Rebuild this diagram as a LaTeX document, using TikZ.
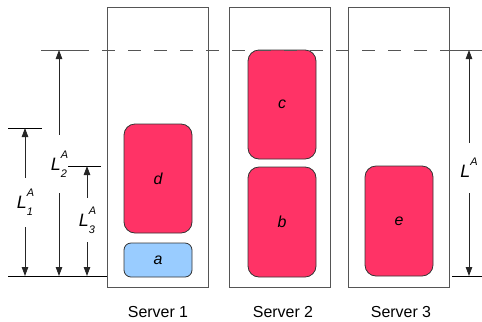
\documentclass[tikz,border=0pt]{standalone}
\usepackage{fontspec}
\setmainfont{Liberation Sans}
\usetikzlibrary{arrows.meta}
\definecolor{jobred}{HTML}{FF3366}
\definecolor{jobblue}{HTML}{99CCFF}
\definecolor{lineg}{HTML}{555555}
\newcommand{\dimlab}[2]{\itshape L\makebox[0pt][l]{\raisebox{1.25ex}{\fontsize{11}{11}\selectfont #1}}\raisebox{-0.75ex}{\fontsize{11}{11}\selectfont #2}}
\tikzset{
  server/.style={draw=lineg, line width=0.8bp},
  job/.style={draw=black!80, line width=0.8bp, rounded corners=11bp, fill=jobred, minimum width=68bp, inner sep=0pt, font=\fontsize{16}{18}\selectfont\itshape},
  smalljob/.style={job, fill=jobblue, rounded corners=7bp},
  slabel/.style={font=\fontsize{16}{18}\selectfont, inner sep=0pt},
  dlab/.style={font=\fontsize{18}{20}\selectfont, inner sep=0pt, minimum width=14bp},
  dimline/.style={draw=black!85, line width=0.8bp, -{Triangle[length=9bp,width=6.5bp]}},
  tick/.style={draw=black, line width=0.8bp},
  dashl/.style={draw=lineg, line width=0.9bp, dash pattern=on 13bp off 13bp},
}
\begin{document}
\begin{tikzpicture}[x=1bp,y=-1bp]
\useasboundingbox (0,0) rectangle (482,321);
% servers
\draw[server] (107,7) rectangle (208,287);
\draw[server] (229,7) rectangle (330,287);
\draw[server] (348,7) rectangle (449,287);
% jobs
\node[job, minimum height=109bp] (d) at (158,178.5) {d};
\node[smalljob, minimum height=34bp] (a) at (158,260) {a};
\node[job, minimum height=109bp] (c) at (282,104.5) {c};
\node[job, minimum height=110bp] (b) at (282,222) {b};
\node[job, minimum height=110bp] (e) at (399,221) {e};
% server labels
\node[slabel] (s1) at (158,312.5) {Server 1};
\node[slabel] (s2) at (283,312.5) {Server 2};
\node[slabel] (s3) at (401,312.5) {Server 3};
% reference lines
\coordinate (dl0) at (41,50);
\coordinate (dl1) at (76,50);
\coordinate (dr0) at (452,50);
\coordinate (dr1) at (482,50);
\draw[tick, draw=lineg] (dl0) -- (dl1);
\draw[dashl] (dl1) -- (dr0);
\draw[tick, draw=lineg] (dr0) -- (dr1);
\coordinate (bl0) at (8,276);
\coordinate (bl1) at (107,276);
\draw[tick] (bl0) -- (bl1);
\coordinate (br0) at (452,276);
\coordinate (br1) at (482,276);
\draw[tick] (br0) -- (br1);
\coordinate (t1a) at (8,128);
\coordinate (t1b) at (42,128);
\draw[tick] (t1a) -- (t1b);
\coordinate (t3a) at (68,166);
\coordinate (t3b) at (101,166);
\draw[tick] (t3a) -- (t3b);
% dimension labels
\node[dlab, minimum height=49bp] (L1) at (25,202.5) {\dimlab{A}{1}};
\node[dlab, minimum height=58bp] (L2) at (59,164) {\dimlab{A}{2}};
\node[dlab, minimum height=44bp] (L3) at (87,220) {\dimlab{A}{3}};
\node[dlab, minimum height=50bp] (L) at (469,168) {\itshape L\raisebox{1.25ex}{\fontsize{11}{11}\selectfont A}};
% dimension arrows
\coordinate (L1t) at (25,128);
\coordinate (L1b) at (25,276);
\coordinate (L2t) at (59,50);
\coordinate (L2b) at (59,276);
\coordinate (L3t) at (87,166);
\coordinate (L3b) at (87,276);
\coordinate (Lt) at (469,50);
\coordinate (Lb) at (469,276);
\draw[dimline] (L1.north) -- (L1t);
\draw[dimline] (L1.south) -- (L1b);
\draw[dimline] (L2.north) -- (L2t);
\draw[dimline] (L2.south) -- (L2b);
\draw[dimline] (L3.north) -- (L3t);
\draw[dimline] (L3.south) -- (L3b);
\draw[dimline] (L.north) -- (Lt);
\draw[dimline] (L.south) -- (Lb);
\end{tikzpicture}
\end{document}
